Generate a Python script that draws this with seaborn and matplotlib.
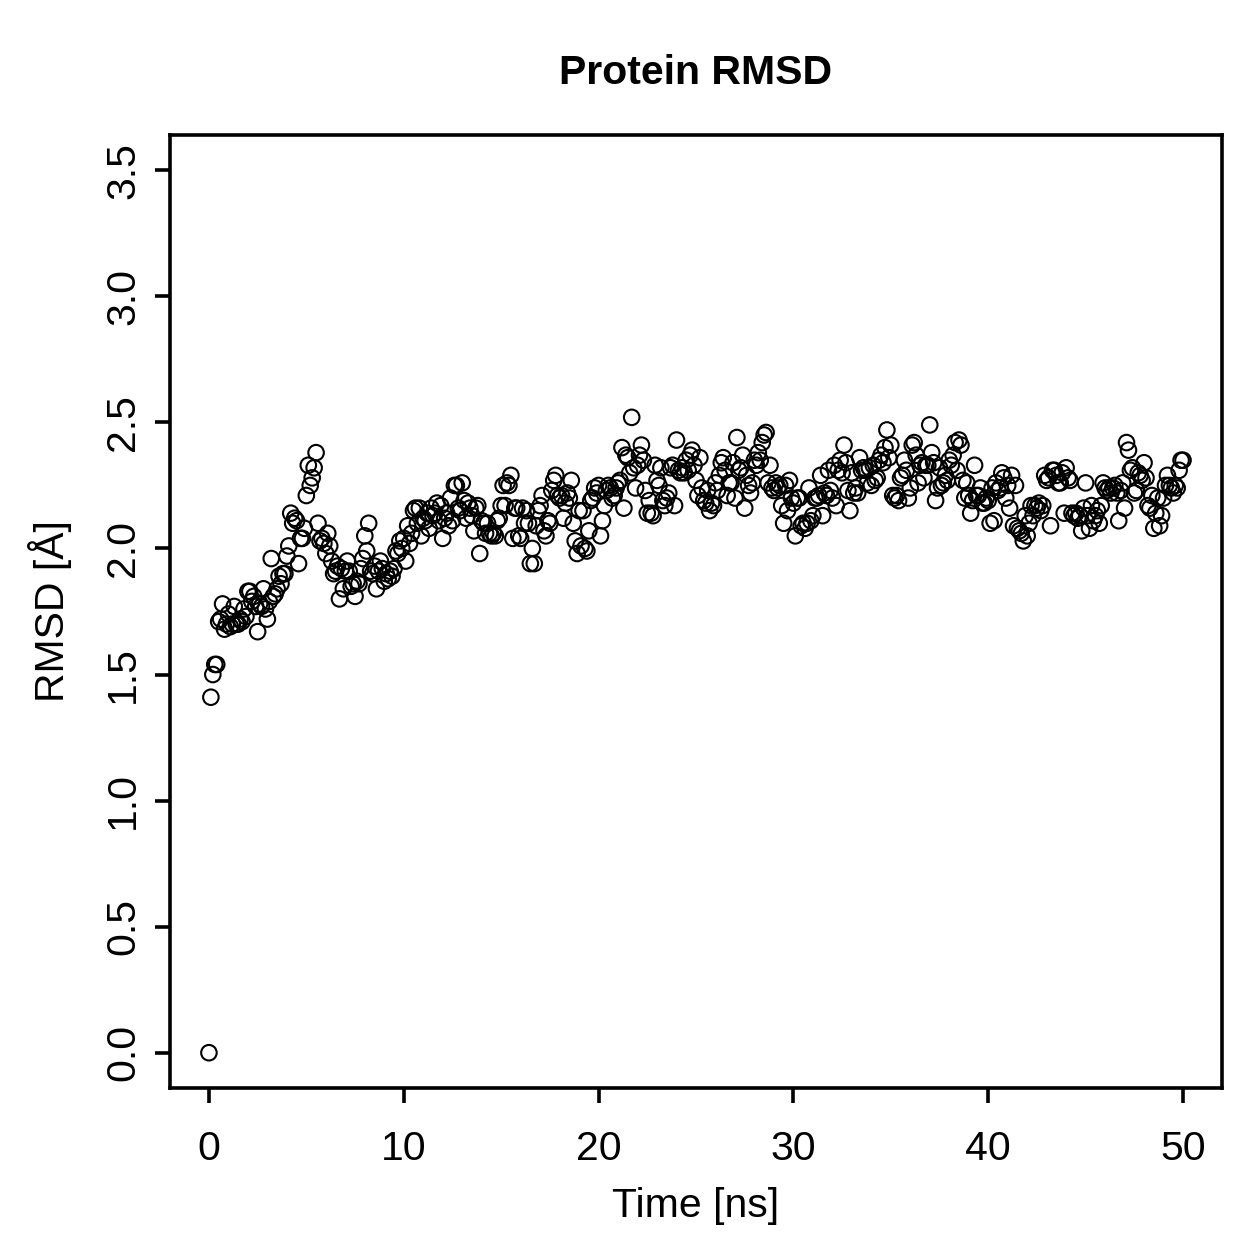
import numpy as np
import matplotlib
matplotlib.use("Agg")
import matplotlib.pyplot as plt
import seaborn as sns

# RMSD values, one row per ns (0.1 ns steps)
rmsd = [
    0.00, 1.41, 1.50, 1.54, 1.54, 1.71, 1.72, 1.78, 1.68, 1.70,
    1.74, 1.69, 1.70, 1.77, 1.70, 1.70, 1.72, 1.71, 1.76, 1.73,
    1.83, 1.83, 1.79, 1.81, 1.77, 1.67, 1.78, 1.77, 1.84, 1.76,
    1.72, 1.79, 1.96, 1.81, 1.82, 1.84, 1.89, 1.86, 1.90, 1.90,
    1.97, 2.01, 2.14, 2.10, 2.12, 2.11, 1.94, 2.04, 2.04, 2.08,
    2.21, 2.33, 2.25, 2.28, 2.32, 2.38, 2.10, 2.03, 2.04, 2.02,
    1.98, 2.06, 2.01, 1.95, 1.90, 1.91, 1.93, 1.80, 1.92, 1.84,
    1.91, 1.95, 1.91, 1.85, 1.86, 1.81, 1.87, 1.86, 1.92, 1.96,
    2.05, 1.99, 2.10, 1.91, 1.90, 1.93, 1.84, 1.91, 1.95, 1.92,
    1.87, 1.90, 1.88, 1.91, 1.89, 1.92, 1.99, 1.98, 2.03, 2.00,
    2.04, 1.95, 2.09, 2.02, 2.06, 2.15, 2.16, 2.10, 2.16, 2.05,
    2.12, 2.11, 2.14, 2.08, 2.16, 2.13, 2.14, 2.18, 2.11, 2.17,
    2.04, 2.12, 2.14, 2.09, 2.20, 2.11, 2.25, 2.25, 2.16, 2.15,
    2.26, 2.19, 2.12, 2.18, 2.16, 2.13, 2.07, 2.16, 2.17, 1.98,
    2.11, 2.10, 2.06, 2.10, 2.06, 2.05, 2.06, 2.05, 2.11, 2.12,
    2.17, 2.25, 2.17, 2.26, 2.25, 2.29, 2.04, 2.16, 2.16, 2.05,
    2.04, 2.16, 2.10, 2.15, 2.10, 1.94, 2.00, 1.94, 2.09, 2.15,
    2.17, 2.21, 2.07, 2.05, 2.11, 2.10, 2.23, 2.27, 2.29, 2.21,
    2.20, 2.21, 2.12, 2.18, 2.22, 2.20, 2.27, 2.10, 2.03, 1.98,
    2.15, 2.01, 2.15, 2.00, 1.99, 2.07, 2.19, 2.20, 2.24, 2.22,
    2.25, 2.05, 2.11, 2.17, 2.23, 2.25, 2.24, 2.20, 2.21, 2.24,
    2.26, 2.27, 2.40, 2.16, 2.37, 2.36, 2.30, 2.52, 2.32, 2.24,
    2.33, 2.37, 2.41, 2.35, 2.23, 2.14, 2.19, 2.14, 2.13, 2.33,
    2.27, 2.25, 2.32, 2.19, 2.17, 2.20, 2.22, 2.32, 2.33, 2.17,
    2.43, 2.31, 2.30, 2.32, 2.30, 2.35, 2.31, 2.37, 2.39, 2.33,
    2.27, 2.21, 2.36, 2.24, 2.19, 2.18, 2.23, 2.15, 2.18, 2.17,
    2.26, 2.23, 2.29, 2.34, 2.36, 2.31, 2.21, 2.26, 2.26, 2.34,
    2.20, 2.44, 2.31, 2.32, 2.37, 2.16, 2.29, 2.25, 2.22, 2.26,
    2.35, 2.33, 2.38, 2.35, 2.42, 2.45, 2.46, 2.26, 2.33, 2.24,
    2.23, 2.26, 2.24, 2.25, 2.17, 2.10, 2.25, 2.15, 2.27, 2.20,
    2.18, 2.05, 2.20, 2.20, 2.09, 2.10, 2.08, 2.10, 2.24, 2.11,
    2.13, 2.20, 2.20, 2.21, 2.29, 2.13, 2.22, 2.21, 2.31, 2.23,
    2.20, 2.33, 2.17, 2.31, 2.35, 2.30, 2.41, 2.34, 2.23, 2.15,
    2.30, 2.22, 2.24, 2.22, 2.36, 2.31, 2.32, 2.31, 2.26, 2.32,
    2.25, 2.33, 2.27, 2.28, 2.35, 2.37, 2.34, 2.40, 2.47, 2.36,
    2.41, 2.21, 2.20, 2.21, 2.19, 2.28, 2.29, 2.35, 2.31, 2.20,
    2.24, 2.41, 2.42, 2.37, 2.26, 2.33, 2.34, 2.28, 2.33, 2.33,
    2.49, 2.38, 2.34, 2.19, 2.24, 2.32, 2.25, 2.26, 2.29, 2.27,
    2.35, 2.33, 2.37, 2.42, 2.31, 2.43, 2.41, 2.27, 2.20, 2.26,
    2.21, 2.14, 2.19, 2.33, 2.21, 2.21, 2.24, 2.18, 2.18, 2.20,
    2.19, 2.10, 2.24, 2.11, 2.26, 2.23, 2.24, 2.30, 2.28, 2.20,
    2.25, 2.16, 2.29, 2.09, 2.25, 2.08, 2.07, 2.06, 2.03, 2.13,
    2.05, 2.10, 2.17, 2.13, 2.17, 2.16, 2.18, 2.15, 2.17, 2.29,
    2.27, 2.28, 2.09, 2.31, 2.31, 2.29, 2.26, 2.26, 2.30, 2.14,
    2.32, 2.28, 2.27, 2.14, 2.13, 2.14, 2.12, 2.13, 2.07, 2.16,
    2.26, 2.13, 2.08, 2.17, 2.11, 2.13, 2.15, 2.10, 2.17, 2.26,
    2.24, 2.23, 2.24, 2.22, 2.24, 2.25, 2.22, 2.11, 2.23, 2.26,
    2.16, 2.42, 2.39, 2.31, 2.32, 2.22, 2.23, 2.30, 2.29, 2.27,
    2.34, 2.28, 2.17, 2.16, 2.21, 2.08, 2.14, 2.20, 2.09, 2.13,
    2.20, 2.25, 2.29, 2.25, 2.24, 2.22, 2.25, 2.24, 2.31, 2.35,
    2.35,
]
time_ns = np.linspace(0, 50, len(rmsd))

x_ticks = [0, 10, 20, 30, 40, 50]
y_ticks = [0.0, 0.5, 1.0, 1.5, 2.0, 2.5, 3.0, 3.5]

sns.set_style("ticks")
plt.rcParams["font.family"] = ["Liberation Sans", "DejaVu Sans"]
plt.rcParams["font.size"] = 29.5
plt.rcParams["text.color"] = "black"
plt.rcParams["axes.labelcolor"] = "black"

fig = plt.figure(figsize=(12.59, 12.59), dpi=100)
ax = fig.add_axes([0.135, 0.1358, 0.8356, 0.757])

sns.scatterplot(x=time_ns, y=rmsd, ax=ax, marker="o", s=125,
                facecolor="none", edgecolor="black", linewidth=1.5)

ax.set_xlim(-2, 52)
ax.set_ylim(-0.14, 3.64)
ax.set_xticks(x_ticks)
ax.set_xticklabels([str(t) for t in x_ticks])
ax.set_yticks(y_ticks)
ax.set_yticklabels([f"{t:.1f}" for t in y_ticks], rotation=90, va="center")

for s in ax.spines.values():
    s.set_visible(True)
    s.set_linewidth(2.6)
    s.set_color("black")
ax.tick_params(axis="both", length=11, width=2.6, color="black",
               labelsize=29.5, labelcolor="black")
ax.tick_params(axis="x", pad=19)
ax.tick_params(axis="y", pad=9)

ax.set_xlabel("Time [ns]", fontsize=29.5)
ax.set_ylabel("RMSD [Å]", fontsize=29.5)
ax.xaxis.set_label_coords(0.5, -0.104)
ax.yaxis.set_label_coords(-0.093, 0.5)
ax.set_title("Protein RMSD", fontsize=29.5, fontweight="bold", pad=37,
             color="black")

fig.savefig("out.png", dpi=100)
